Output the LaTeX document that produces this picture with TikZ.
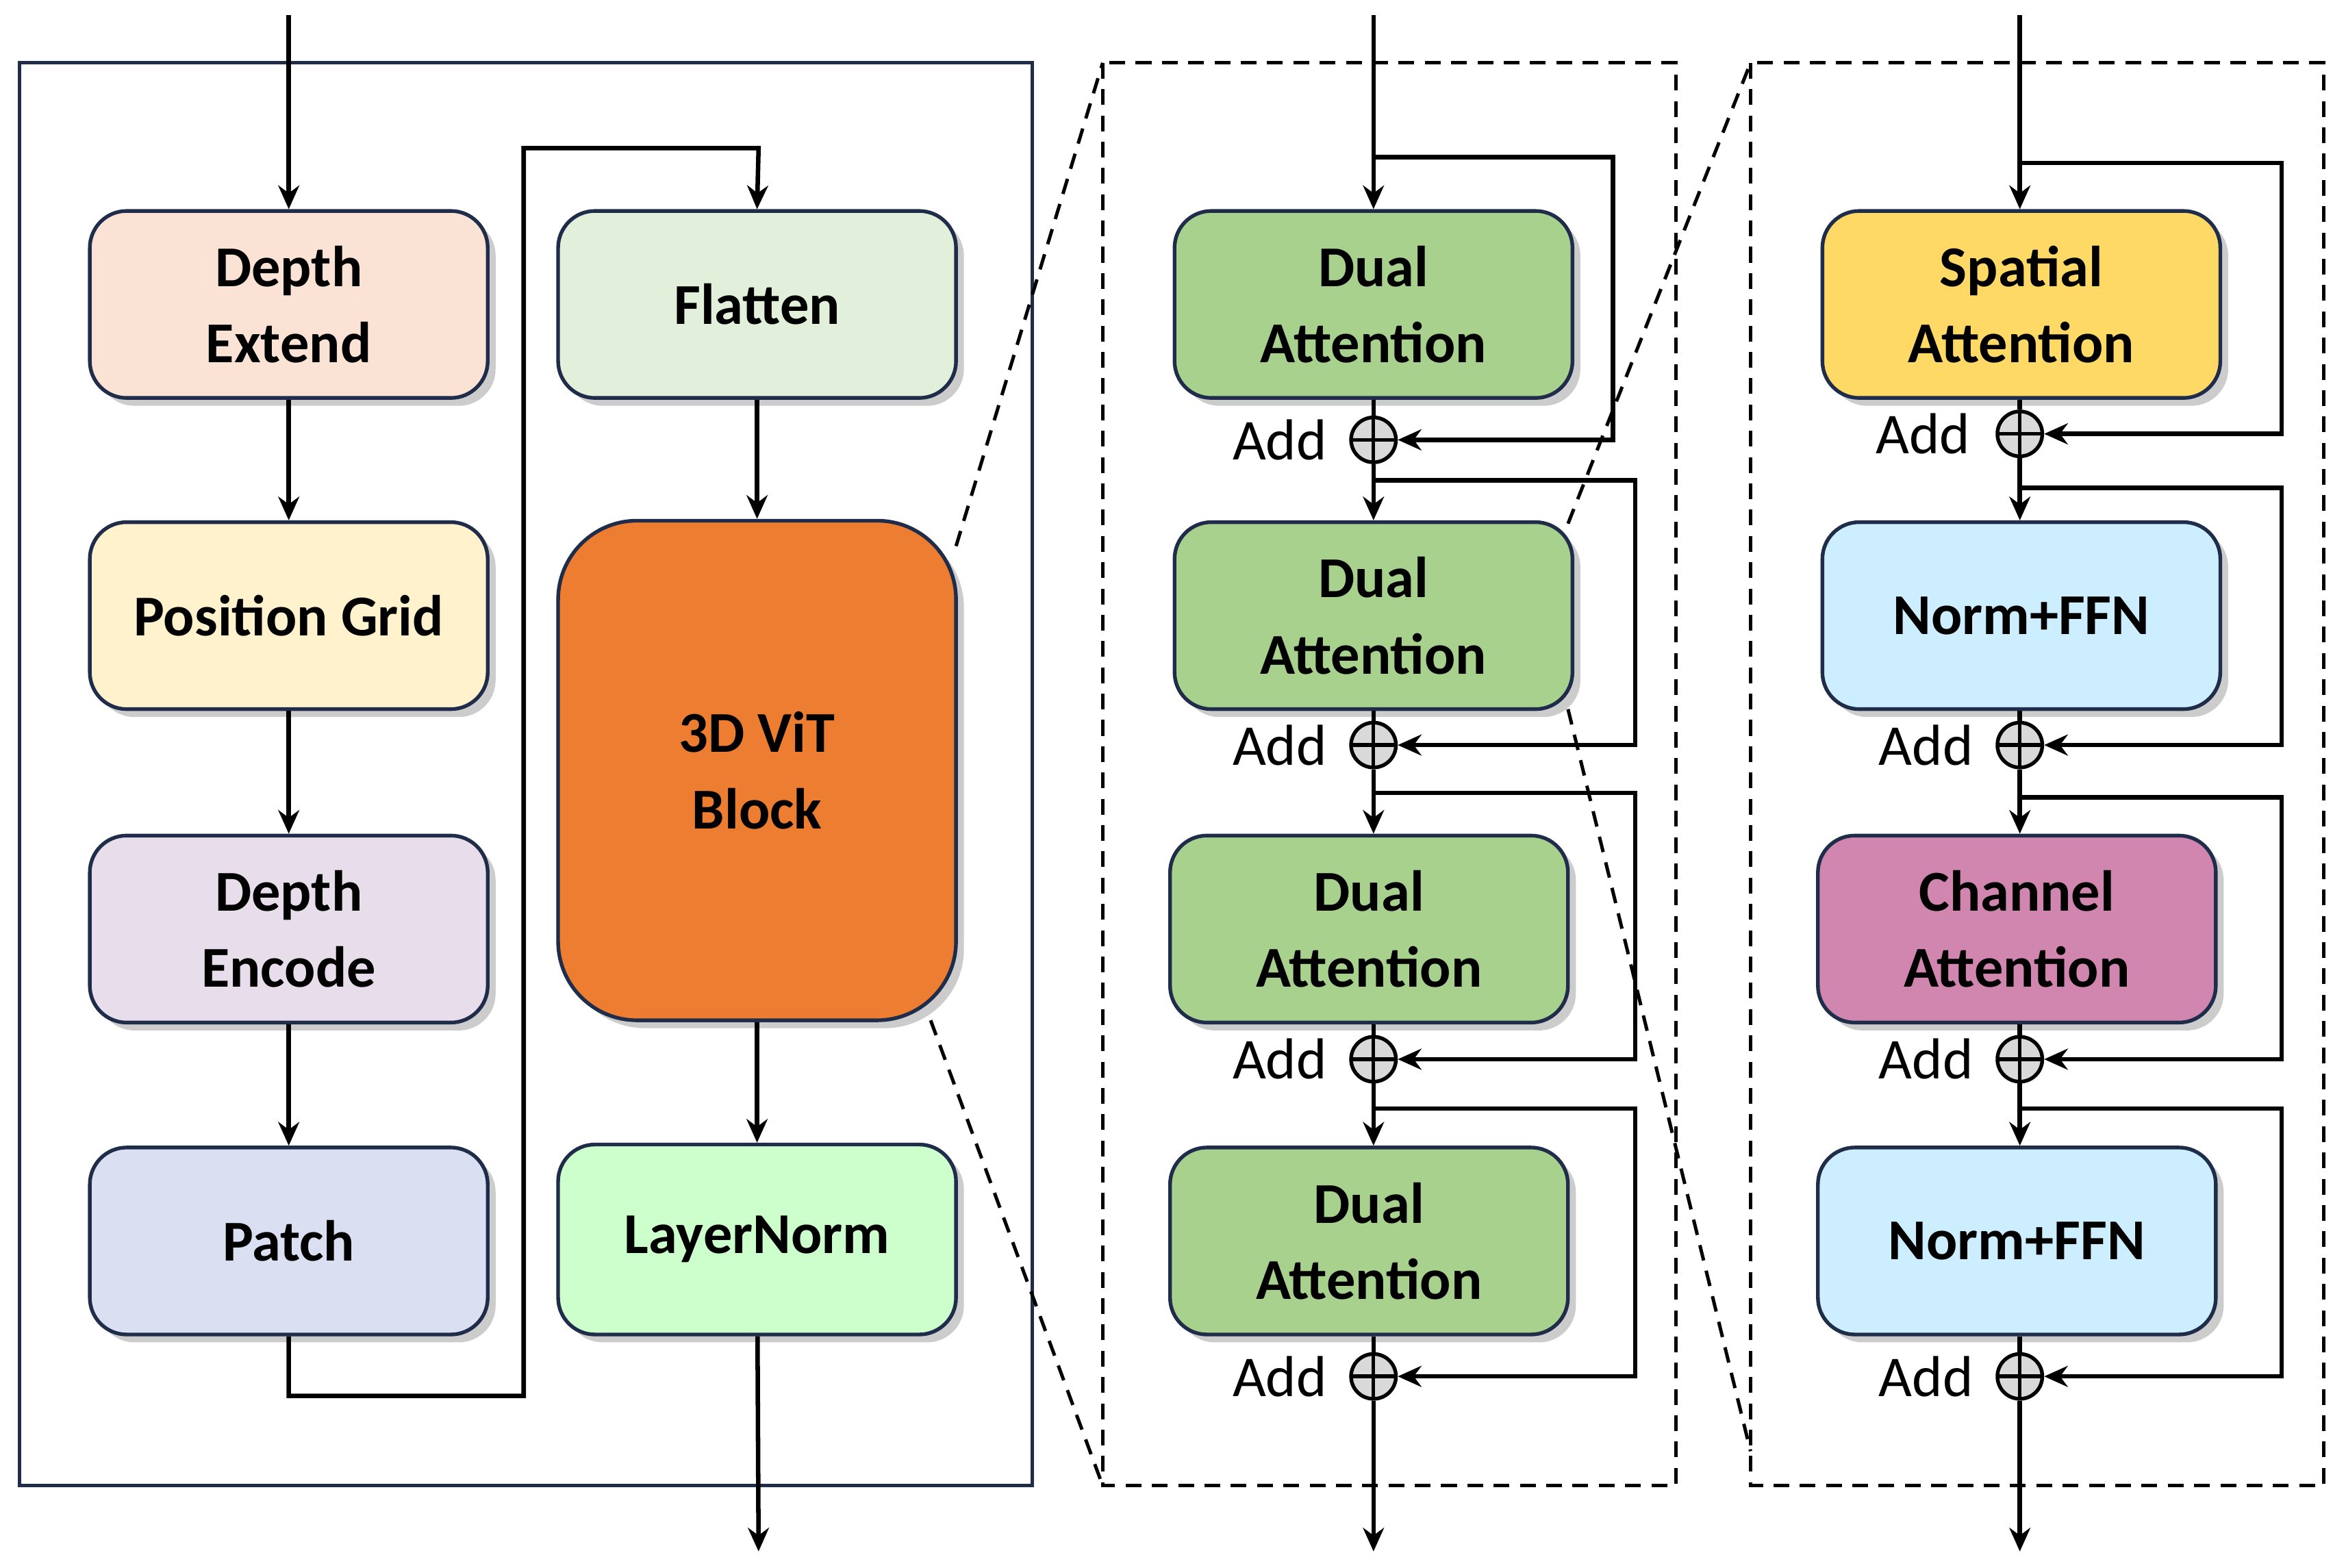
\documentclass[tikz,border=0pt]{standalone}
\usepackage{fontspec}
\setmainfont{Carlito}
\usetikzlibrary{shadows,arrows.meta}
\begin{document}
\begin{tikzpicture}[x=0.02cm,y=-0.02cm,
 bx/.style={draw=nv,line width=1.4pt,rounded corners=14pt,drop shadow={shadow xshift=3pt,shadow yshift=-3pt,fill=black!40},font=\fontsize{22}{29}\selectfont\bfseries,align=center,inner sep=0pt},
 ln/.style={line width=1.7pt,-{Stealth[length=9pt,width=8pt]}},
 pl/.style={line width=1.7pt},
 ds/.style={line width=1.3pt,dash pattern=on 6pt off 4pt},
 ad/.style={circle,draw,line width=1.4pt,fill=black!15,minimum size=30*0.02cm,inner sep=0pt,path picture={\draw[line width=1.4pt] (path picture bounding box.north) -- (path picture bounding box.south) (path picture bounding box.west) -- (path picture bounding box.east);}},
 addlbl/.style={font=\fontsize{22}{26}\selectfont,anchor=east}]
\definecolor{nv}{HTML}{1F2D4A}
\useasboundingbox (0,0) rectangle (1568,1048);
% left panel
\draw[draw=nv,line width=1.4pt] (13,42) rectangle (690,993);
\node[bx,fill={rgb,255:red,250;green,226;blue,213},minimum width=5.32cm,minimum height=2.5cm] (de) at (193,203.5) {Depth\\Extend};
\node[bx,fill={rgb,255:red,255;green,242;blue,204},minimum width=5.32cm,minimum height=2.5cm] (pg) at (193,411.5) {Position Grid};
\node[bx,fill={rgb,255:red,232;green,221;blue,235},minimum width=5.32cm,minimum height=2.5cm] (den) at (193,621) {Depth\\Encode};
\node[bx,fill={rgb,255:red,218;green,224;blue,242},minimum width=5.32cm,minimum height=2.5cm] (pa) at (193,829.5) {Patch};
\node[bx,fill={rgb,255:red,226;green,239;blue,218},minimum width=5.32cm,minimum height=2.5cm] (fl) at (506,203.5) {Flatten};
\node[bx,fill={rgb,255:red,237;green,125;blue,49},rounded corners=30pt,minimum width=5.32cm,minimum height=6.68cm] (vit) at (506,515) {3D ViT\\Block};
\node[bx,fill={rgb,255:red,204;green,255;blue,204},minimum width=5.32cm,minimum height=2.54cm] (lnm) at (506,828.5) {LayerNorm};
\coordinate (in1) at (193,10);
\coordinate (out1) at (507,1037);
\draw[ln] (in1) -- (de);
\draw[ln] (de) -- (pg);
\draw[ln] (pg) -- (den);
\draw[ln] (den) -- (pa);
\draw[ln] (pa.south) -- (193,933) -- (350,933) -- (350,99) -- (507,99) -- (fl.north);
\draw[ln] (fl) -- (vit);
\draw[ln] (vit) -- (lnm);
\draw[ln] (lnm) -- (out1);
% middle panel
\draw[ds] (737,42) rectangle (1120,993);
\draw[ds] (639,365) -- (737,42);
\draw[ds] (622,682) -- (737,993);
\draw[ds] (1170,42) rectangle (1553,993);
\foreach \i/\x/\y in {1/918/203.5,2/918/411.5,3/915/621,4/915/829.5}{
 \node[bx,fill={rgb,255:red,169;green,209;blue,142},minimum width=5.32cm,minimum height=2.5cm] (da\i) at (\x,\y) {Dual\\Attention};}
\draw[ds] (1048,350) -- (1170,42);
\draw[ds] (1048,474) -- (1170,970);
\foreach \i/\y in {1/294,2/498,3/708,4/920}{\node[ad] (ma\i) at (918,\y) {}; \node[addlbl] at (893,\y) {Add};}
\coordinate (in2) at (918,10); \coordinate (out2) at (918,1037);
\draw[ln] (in2) -- (da1);
\draw[ln] (918,105) -- (1078,105) -- (1078,294) -- (ma1);
\draw[pl] (da1) -- (ma1);
\draw[ln] (ma1) -- (da2.north-|918,0);
\draw[ln] (918,321) -- (1093,321) -- (1093,498) -- (ma2);
\draw[pl] (da2.south-|918,0) -- (ma2);
\draw[ln] (ma2) -- (da3.north-|918,0);
\draw[ln] (918,530) -- (1093,530) -- (1093,708) -- (ma3);
\draw[pl] (da3.south-|918,0) -- (ma3);
\draw[ln] (ma3) -- (da4.north-|918,0);
\draw[ln] (918,741) -- (1093,741) -- (1093,920) -- (ma4);
\draw[pl] (da4.south-|918,0) -- (ma4);
\draw[ln] (ma4) -- (out2);
% right panel
\node[bx,fill={rgb,255:red,255;green,217;blue,102},minimum width=5.32cm,minimum height=2.5cm] (sa) at (1351,203.5) {Spatial\\Attention};
\node[bx,fill={rgb,255:red,204;green,238;blue,255},minimum width=5.32cm,minimum height=2.5cm] (nf1) at (1351,411.5) {Norm+FFN};
\node[bx,fill={rgb,255:red,208;green,134;blue,174},minimum width=5.32cm,minimum height=2.5cm] (ca) at (1348,621) {Channel\\Attention};
\node[bx,fill={rgb,255:red,204;green,238;blue,255},minimum width=5.32cm,minimum height=2.5cm] (nf2) at (1348,829.5) {Norm+FFN};
\foreach \i/\y/\t in {1/290/1323,2/498/1325,3/708/1325,4/920/1325}{\node[ad] (ra\i) at (1350,\y) {}; \node[addlbl] at (\t,\y) {Add};}
\coordinate (in3) at (1350,10); \coordinate (out3) at (1350,1037);
\draw[ln] (in3) -- (sa.north-|1350,0);
\draw[ln] (1350,109) -- (1525,109) -- (1525,290) -- (ra1);
\draw[pl] (sa.south-|1350,0) -- (ra1);
\draw[ln] (ra1) -- (nf1.north-|1350,0);
\draw[ln] (1350,326) -- (1525,326) -- (1525,498) -- (ra2);
\draw[pl] (nf1.south-|1350,0) -- (ra2);
\draw[ln] (ra2) -- (ca.north-|1350,0);
\draw[ln] (1350,533) -- (1525,533) -- (1525,708) -- (ra3);
\draw[pl] (ca.south-|1350,0) -- (ra3);
\draw[ln] (ra3) -- (nf2.north-|1350,0);
\draw[ln] (1350,741) -- (1525,741) -- (1525,920) -- (ra4);
\draw[pl] (nf2.south-|1350,0) -- (ra4);
\draw[ln] (ra4) -- (out3);
\end{tikzpicture}
\end{document}
